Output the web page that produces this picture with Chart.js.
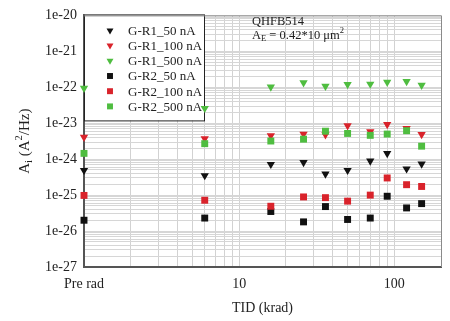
<!DOCTYPE html>
<html><head><meta charset="utf-8">
<script src="https://cdn.jsdelivr.net/npm/chart.js@4/dist/chart.umd.min.js"></script>
<style>html,body{margin:0;padding:0;background:#fff}#wrap{width:450px;height:321px;position:relative}</style>
</head><body><div id="wrap"><canvas id="c" width="450" height="321"></canvas></div>
<script>
// ---- data ----
const tidKrad = [1, 6, 16, 26, 36, 50, 70, 90, 120, 150];
const seriesLabels = ['G-R1_50 nA', 'G-R1_100 nA', 'G-R1_500 nA', 'G-R2_50 nA', 'G-R2_100 nA', 'G-R2_500 nA'];
const gR1_50nA  = [4.9e-25, 3.5e-25, 7.2e-25, 8.1e-25, 3.9e-25, 4.9e-25, 8.9e-25, 1.45e-24, 5.4e-25, 7.4e-25];
const gR1_100nA = [4.1e-24, 3.7e-24, 4.5e-24, 5.0e-24, 4.8e-24, 8.5e-24, 5.8e-24, 9.3e-24, 7.2e-24, 4.9e-24];
const gR1_500nA = [9.5e-23, 2.6e-23, 1.02e-22, 1.35e-22, 1.07e-22, 1.2e-22, 1.23e-22, 1.38e-22, 1.45e-22, 1.15e-22];
const gR2_50nA  = [2.0e-26, 2.3e-26, 3.5e-26, 1.8e-26, 4.8e-26, 2.1e-26, 2.3e-26, 9.3e-26, 4.4e-26, 5.8e-26];
const gR2_100nA = [9.8e-26, 7.2e-26, 4.9e-26, 8.9e-26, 8.5e-26, 6.8e-26, 1.0e-25, 3.0e-25, 1.95e-25, 1.74e-25];
const gR2_500nA = [1.45e-24, 2.7e-24, 3.2e-24, 3.6e-24, 6.0e-24, 5.2e-24, 4.6e-24, 5.0e-24, 6.2e-24, 2.3e-24];
const yTickValues = [1e-27, 1e-26, 1e-25, 1e-24, 1e-23, 1e-22, 1e-21, 1e-20];
const yTickLabels = ['1e-27', '1e-26', '1e-25', '1e-24', '1e-23', '1e-22', '1e-21', '1e-20'];
const xTickValues = [1, 10, 100];
const xTickLabels = ['Pre rad', '10', '100'];
const xTitle = 'TID (krad)';
const yTitleParts = ['A', 'i', ' (A', '2', '/Hz)'];
const noteLine1 = 'QHFB514';
const noteLine2Parts = ['A', 'E', ' = 0.42*10 \u03bcm', '2'];

// ---- styling ----
const BLACK = '#111111', RED = '#d9232b', GREEN = '#4fbd40';
const seriesValues = [gR1_50nA, gR1_100nA, gR1_500nA, gR2_50nA, gR2_100nA, gR2_500nA];
const seriesColors = [BLACK, RED, GREEN, BLACK, RED, GREEN];
const seriesShapes = ['triangle', 'triangle', 'triangle', 'rect', 'rect', 'rect'];
const SERIF = '"Liberation Serif", "Times New Roman", serif';

const datasets = seriesLabels.map((lab, i) => ({
  label: lab,
  data: tidKrad.map((x, j) => ({x: x, y: seriesValues[i][j]})),
  backgroundColor: seriesColors[i],
  borderColor: seriesColors[i],
  borderWidth: 0,
  pointStyle: seriesShapes[i],
  pointRotation: seriesShapes[i] === 'triangle' ? 180 : 0,
  pointRadius: seriesShapes[i] === 'triangle' ? 4.8 : 4.9,
  pointHoverRadius: 5,
  showLine: false,
  clip: false,
  order: 6 - i
}));

function isDecade(v) { const e = Math.log10(v); return Math.abs(e - Math.round(e)) < 1e-6; }
function decadeTicks(minE, maxE, lastMult) {
  const out = [];
  for (let e = minE; e < maxE; e++) for (let k = 1; k <= 9; k++) out.push(parseFloat((k * Math.pow(10, e)).toPrecision(6)));
  for (let k = 1; k <= lastMult; k++) out.push(parseFloat((k * Math.pow(10, maxE)).toPrecision(6)));
  return out;
}

const drawExtras = {
  id: 'extras',
  beforeDatasetsDraw(chart) {
    const ctx = chart.ctx, ca = chart.chartArea;
    // legend box
    const bx = ca.left, by = ca.top - 1, bw = 120, bh = 106;
    ctx.save();
    ctx.fillStyle = '#fff';
    ctx.fillRect(bx, by, bw, bh);
    ctx.strokeStyle = '#222';
    ctx.lineWidth = 1;
    ctx.strokeRect(bx + 0.5, by + 0.5, bw, bh);
    ctx.font = '13px ' + SERIF;
    ctx.textBaseline = 'middle';
    ctx.textAlign = 'left';
    seriesLabels.forEach((lab, i) => {
      const y = by + 16 + i * 15.2;
      ctx.fillStyle = seriesColors[i];
      ctx.strokeStyle = seriesColors[i];
      Chart.helpers.drawPoint(ctx, {
        pointStyle: seriesShapes[i], rotation: seriesShapes[i] === 'triangle' ? 180 : 0,
        radius: seriesShapes[i] === 'triangle' ? 4 : 4.2, borderWidth: 0
      }, bx + 26, y);
      ctx.fillStyle = '#222';
      ctx.fillText(lab, bx + 44, y + 1);
    });
    // annotation
    const ax = 252;
    ctx.fillStyle = '#222';
    ctx.font = '12.5px ' + SERIF;
    ctx.fillText(noteLine1, ax, 22);
    let x = ax;
    const y2 = 36;
    const fonts = [12.5, 8.5, 12.5, 8.5];
    const dys = [0, 3, 0, -5];
    noteLine2Parts.forEach((t, i) => {
      ctx.font = fonts[i] + 'px ' + SERIF;
      ctx.fillText(t, x, y2 + dys[i]);
      x += ctx.measureText(t).width;
    });
    ctx.restore();
  },
  afterDraw(chart) {
    const ctx = chart.ctx, ca = chart.chartArea;
    ctx.save();
    // top & right frame
    ctx.strokeStyle = '#8a8a8a';
    ctx.lineWidth = 1;
    ctx.beginPath();
    ctx.moveTo(ca.left, ca.top + 0.5); ctx.lineTo(ca.right + 0.5, ca.top + 0.5); ctx.lineTo(ca.right + 0.5, ca.bottom);
    ctx.stroke();
    // y title with sub/superscript
    ctx.translate(25, (ca.top + ca.bottom) / 2);
    ctx.rotate(-Math.PI / 2);
    ctx.fillStyle = '#222';
    ctx.textBaseline = 'middle';
    ctx.textAlign = 'left';
    const fs = [15, 10.5, 15, 10.5, 15];
    const dy = [0, 4, 0, -6, 0];
    let total = 0;
    yTitleParts.forEach((t, i) => { ctx.font = fs[i] + 'px ' + SERIF; total += ctx.measureText(t).width; });
    let x = -total / 2;
    yTitleParts.forEach((t, i) => {
      ctx.font = fs[i] + 'px ' + SERIF;
      ctx.fillText(t, x, dy[i]);
      x += ctx.measureText(t).width;
    });
    ctx.restore();
  }
};

new Chart(document.getElementById('c'), {
  type: 'scatter',
  data: {datasets: datasets},
  options: {
    responsive: false,
    animation: false,
    devicePixelRatio: 1,
    layout: {padding: {top: 8, right: 3, left: 0, bottom: 0}},
    plugins: {legend: {display: false}, tooltip: {enabled: false}},
    scales: {
      x: {
        type: 'logarithmic',
        min: 1, max: 200,
        afterFit(s) { s.height = 54; },
        afterBuildTicks(s) { s.ticks = decadeTicks(0, 2, 2).map(v => ({value: v})); },
        ticks: {
          autoSkip: false, maxRotation: 0, padding: 9, color: '#222',
          font: {family: SERIF, size: 14},
          callback(v) { const k = xTickValues.findIndex(t => Math.abs(t - v) < 1e-9); return k >= 0 ? xTickLabels[k] : ''; }
        },
        grid: {color: '#d2d2d2', lineWidth: 1, drawTicks: false},
        border: {color: '#555', width: 2},
        title: {display: true, text: xTitle, color: '#222', font: {family: SERIF, size: 14}, padding: {top: 0, bottom: 4}}
      },
      y: {
        type: 'logarithmic',
        min: 1e-27, max: 1e-20,
        afterFit(s) { s.width = 84; },
        afterBuildTicks(s) { s.ticks = decadeTicks(-27, -20, 1).map(v => ({value: v})); },
        ticks: {
          autoSkip: false, padding: 7, color: '#222',
          font: {family: SERIF, size: 14},
          callback(v) {
            if (!isDecade(v)) return '';
            const k = yTickValues.findIndex(t => Math.abs(Math.log10(t) - Math.log10(v)) < 1e-6);
            return k >= 0 ? yTickLabels[k] : '';
          }
        },
        grid: {color: '#d6d6d6', lineWidth: 1, drawTicks: false},
        border: {color: '#555', width: 2}
      }
    }
  },
  plugins: [drawExtras]
});
</script>
</body></html>
